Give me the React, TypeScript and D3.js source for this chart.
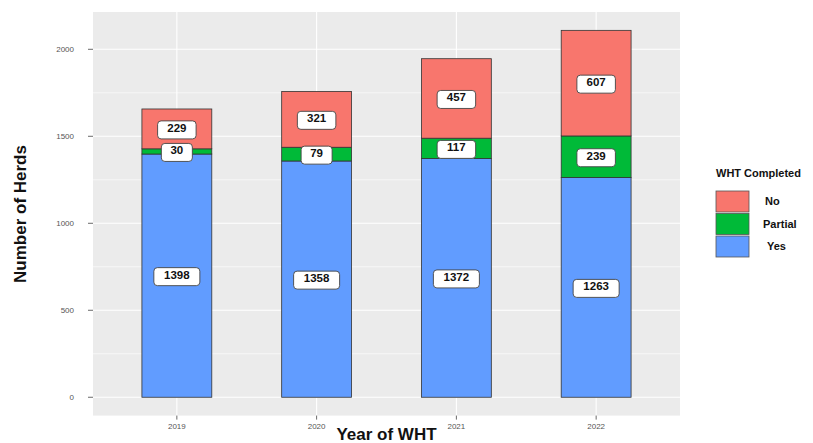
import React from "react";
import * as d3 from "d3";

const years = ["2019", "2020", "2021", "2022"];
const seriesNames = ["Yes", "Partial", "No"];
const yesValues = [1398, 1358, 1372, 1263];
const partialValues = [30, 79, 117, 239];
const noValues = [229, 321, 457, 607];
const yTicks = [0, 500, 1000, 1500, 2000];
const yMinor = [250, 750, 1250, 1750];
const legendOrder = ["No", "Partial", "Yes"];
const colors: Record<string, string> = { No: "#F8766D", Partial: "#00BA38", Yes: "#619CFF" };

const W = 813, H = 443;
const panel = { left: 93, right: 680, top: 12, bottom: 415.6 };

export default function App() {
  const rows = years.map((y, i) => ({ year: y, Yes: yesValues[i], Partial: partialValues[i], No: noValues[i] }));
  const stack = d3.stack<any>().keys(seriesNames)(rows);
  const maxTot = d3.max(rows, (r) => r.Yes + r.Partial + r.No) as number;
  const pad = maxTot * 0.05;
  const y = d3.scaleLinear().domain([-pad, maxTot + pad]).range([panel.bottom, panel.top]);
  const x = d3.scalePoint().domain(years).range([panel.left, panel.right]).padding(0.6);
  const step = x.step();
  const cx = (i: number) => x(years[i]) as number;
  const barW = step * 0.5;
  const font = "Liberation Sans, Arial, sans-serif";

  return (
    <svg width={W} height={H} style={{ position: "absolute", left: 0, top: 0, background: "#fff" }}>
      <rect x={panel.left} y={panel.top} width={panel.right - panel.left} height={panel.bottom - panel.top} fill="#EBEBEB" />
      {yMinor.map((t) => (
        <line key={"m" + t} x1={panel.left} x2={panel.right} y1={y(t)} y2={y(t)} stroke="#fff" strokeWidth={0.6} />
      ))}
      {yTicks.map((t) => (
        <line key={"g" + t} x1={panel.left} x2={panel.right} y1={y(t)} y2={y(t)} stroke="#fff" strokeWidth={1.1} />
      ))}
      {years.map((yr, i) => (
        <line key={"v" + yr} x1={cx(i)} x2={cx(i)} y1={panel.top} y2={panel.bottom} stroke="#fff" strokeWidth={1.1} />
      ))}
      {stack.map((s) =>
        s.map((d, i) => (
          <rect key={s.key + i} x={cx(i) - barW / 2} y={y(d[1])} width={barW} height={y(d[0]) - y(d[1])}
            fill={colors[s.key]} stroke="#333" strokeWidth={0.8} />
        ))
      )}
      {stack.map((s) =>
        s.map((d, i) => {
          const v = d[1] - d[0];
          const txt = String(v);
          const bw = txt.length * 7.5 + 16;
          const my = y((d[0] + d[1]) / 2);
          return (
            <g key={"l" + s.key + i}>
              <rect x={cx(i) - bw / 2} y={my - 8} width={bw} height={18} rx={3.5} fill="#fff" stroke="#444" strokeWidth={0.9} />
              <text x={cx(i)} y={my + 3} textAnchor="middle" fontFamily={font} fontWeight="bold" fontSize={11.5} fill="#111">{txt}</text>
            </g>
          );
        })
      )}
      {yTicks.map((t) => (
        <g key={"yt" + t}>
          <line x1={panel.left - 5} x2={panel.left} y1={y(t)} y2={y(t)} stroke="#444" strokeWidth={0.8} />
          <text x={panel.left - 19} y={y(t) + 3} textAnchor="end" fontFamily={font} fontSize={8} fill="#555">{t}</text>
        </g>
      ))}
      {years.map((yr, i) => (
        <g key={"xt" + yr}>
          <line x1={cx(i)} x2={cx(i)} y1={panel.bottom} y2={panel.bottom + 4} stroke="#444" strokeWidth={0.8} />
          <text x={cx(i)} y={panel.bottom + 13} textAnchor="middle" fontFamily={font} fontSize={8} fill="#555">{yr}</text>
        </g>
      ))}
      <text x={(panel.left + panel.right) / 2} y={440} textAnchor="middle" fontFamily={font} fontWeight="bold" fontSize={17} fill="#111">Year of WHT</text>
      <text transform={`translate(26,214) rotate(-90)`} textAnchor="middle" fontFamily={font} fontWeight="bold" fontSize={17} fill="#111">Number of Herds</text>
      <text x={716} y={177} fontFamily={font} fontWeight="bold" fontSize={11} fill="#111">WHT Completed</text>
      {legendOrder.map((k, i) => (
        <g key={"lg" + k}>
          <rect x={716} y={191 + i * 22.5} width={33} height={21} fill={colors[k]} stroke="#555" strokeWidth={0.8} />
          <text x={k === "Partial" ? 763 : k === "No" ? 765 : 767} y={205 + i * 22.5} fontFamily={font} fontWeight="bold" fontSize={11} fill="#111">{k}</text>
        </g>
      ))}
    </svg>
  );
}
